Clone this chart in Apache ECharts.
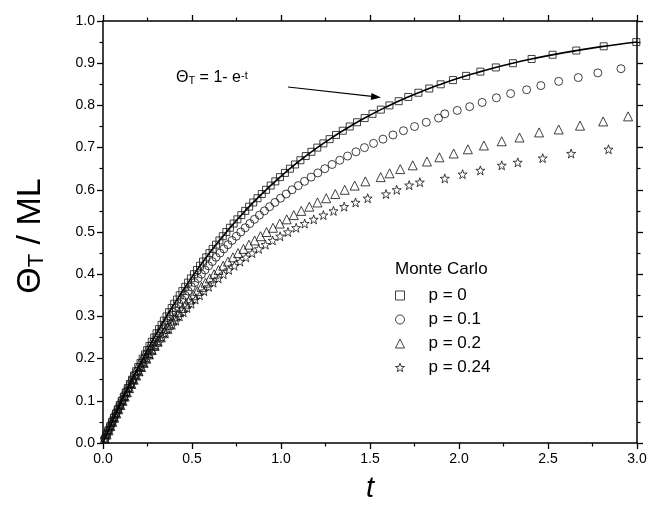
<!DOCTYPE html>
<html>
<head>
<meta charset="utf-8">
<script src="https://cdn.jsdelivr.net/npm/echarts/dist/echarts.min.js"></script>
<style>
html,body{margin:0;padding:0;background:#fff}
#chart{width:650px;height:508px}
</style>
</head>
<body>
<div id="chart"></div>
<script>
// time t and coverage Theta_T/ML for each Monte Carlo run
const tP0 = [0.010,0.020,0.030,0.041,0.051,0.062,0.073,0.083,0.094,0.105,0.117,0.128,0.139,0.151,0.163,0.174,0.186,0.198,0.211,0.223,
  0.236,0.248,0.261,0.274,0.288,0.301,0.315,0.329,0.342,0.357,0.371,0.386,0.400,0.416,0.431,0.446,0.462,0.478,0.494,0.511,
  0.528,0.545,0.562,0.580,0.598,0.616,0.635,0.654,0.673,0.693,0.713,0.734,0.755,0.777,0.799,0.821,0.844,0.868,0.892,0.916,
  0.942,0.968,0.994,1.022,1.050,1.079,1.109,1.139,1.171,1.204,1.238,1.273,1.309,1.347,1.386,1.427,1.470,1.514,1.561,1.609,
  1.661,1.715,1.772,1.833,1.897,1.966,2.040,2.120,2.207,2.303,2.408,2.526,2.659,2.813,2.996];
const thP0 = [0.01,0.02,0.03,0.04,0.05,0.06,0.07,0.08,0.09,0.10,0.11,0.12,0.13,0.14,0.15,0.16,0.17,0.18,0.19,0.20,
  0.21,0.22,0.23,0.24,0.25,0.26,0.27,0.28,0.29,0.30,0.31,0.32,0.33,0.34,0.35,0.36,0.37,0.38,0.39,0.40,
  0.41,0.42,0.43,0.44,0.45,0.46,0.47,0.48,0.49,0.50,0.51,0.52,0.53,0.54,0.55,0.56,0.57,0.58,0.59,0.60,
  0.61,0.62,0.63,0.64,0.65,0.66,0.67,0.68,0.69,0.70,0.71,0.72,0.73,0.74,0.75,0.76,0.77,0.78,0.79,0.80,
  0.81,0.82,0.83,0.84,0.85,0.86,0.87,0.88,0.89,0.90,0.91,0.92,0.93,0.94,0.95];

const tP1 = [0.010,0.020,0.031,0.041,0.052,0.062,0.073,0.084,0.096,0.107,0.119,0.130,0.142,0.154,0.167,0.179,0.192,0.205,0.218,0.231,
  0.244,0.258,0.272,0.286,0.301,0.315,0.330,0.346,0.361,0.377,0.393,0.409,0.426,0.443,0.461,0.478,0.496,0.515,0.534,0.553,
  0.573,0.593,0.614,0.635,0.657,0.679,0.702,0.725,0.749,0.774,0.799,0.825,0.851,0.879,0.907,0.936,0.966,0.997,1.029,1.062,
  1.097,1.132,1.169,1.207,1.246,1.287,1.330,1.374,1.421,1.469,1.520,1.573,1.629,1.688,1.750,1.816,1.885,
  1.92,1.99,2.06,2.13,2.21,2.29,2.38,2.46,2.56,2.67,2.78,2.91];
const thP1 = [0.01,0.02,0.03,0.04,0.05,0.06,0.07,0.08,0.09,0.10,0.11,0.12,0.13,0.14,0.15,0.16,0.17,0.18,0.19,0.20,
  0.21,0.22,0.23,0.24,0.25,0.26,0.27,0.28,0.29,0.30,0.31,0.32,0.33,0.34,0.35,0.36,0.37,0.38,0.39,0.40,
  0.41,0.42,0.43,0.44,0.45,0.46,0.47,0.48,0.49,0.50,0.51,0.52,0.53,0.54,0.55,0.56,0.57,0.58,0.59,0.60,
  0.61,0.62,0.63,0.64,0.65,0.66,0.67,0.68,0.69,0.70,0.71,0.72,0.73,0.74,0.75,0.76,0.77,
  0.780,0.788,0.797,0.807,0.818,0.828,0.837,0.847,0.857,0.866,0.877,0.887];

const tP2 = [0.010,0.020,0.031,0.041,0.052,0.063,0.075,0.086,0.098,0.110,0.122,0.134,0.147,0.159,0.172,0.186,0.200,0.214,0.228,0.242,
  0.257,0.273,0.288,0.304,0.320,0.337,0.354,0.372,0.390,0.408,0.427,0.447,0.467,0.487,0.509,0.530,0.553,0.576,0.600,0.624,
  0.649,0.675,0.702,0.730,0.759,0.789,0.820,0.852,0.885,0.919,0.955,0.993,1.032,1.072,1.114,1.159,1.205,1.254,1.305,1.358,
  1.414,1.474,
  1.56,1.61,1.67,1.74,1.82,1.89,1.97,2.05,2.14,2.24,2.34,2.45,2.56,2.68,2.81,2.95];
const thP2 = [0.01,0.02,0.03,0.04,0.05,0.06,0.07,0.08,0.09,0.10,0.11,0.12,0.13,0.14,0.15,0.16,0.17,0.18,0.19,0.20,
  0.21,0.22,0.23,0.24,0.25,0.26,0.27,0.28,0.29,0.30,0.31,0.32,0.33,0.34,0.35,0.36,0.37,0.38,0.39,0.40,
  0.41,0.42,0.43,0.44,0.45,0.46,0.47,0.48,0.49,0.50,0.51,0.52,0.53,0.54,0.55,0.56,0.57,0.58,0.59,0.60,
  0.61,0.62,
  0.630,0.639,0.649,0.658,0.667,0.677,0.686,0.696,0.705,0.715,0.724,0.736,0.743,0.752,0.762,0.774];

const tP24 = [0.010,0.020,0.031,0.042,0.053,0.064,0.075,0.087,0.099,0.111,0.123,0.136,0.149,0.163,0.176,0.190,0.205,0.219,0.234,0.250,
  0.266,0.282,0.299,0.316,0.334,0.352,0.371,0.390,0.410,0.430,0.452,0.473,0.496,0.519,0.543,0.568,0.594,0.620,0.648,0.677,
  0.707,0.738,0.770,0.803,0.838,0.875,0.913,0.953,0.995,1.039,1.085,1.133,1.184,1.238,1.295,1.355,1.419,1.487,
  1.59,1.65,1.72,1.78,1.92,2.02,2.12,2.24,2.33,2.47,2.63,2.84];
const thP24 = [0.01,0.02,0.03,0.04,0.05,0.06,0.07,0.08,0.09,0.10,0.11,0.12,0.13,0.14,0.15,0.16,0.17,0.18,0.19,0.20,
  0.21,0.22,0.23,0.24,0.25,0.26,0.27,0.28,0.29,0.30,0.31,0.32,0.33,0.34,0.35,0.36,0.37,0.38,0.39,0.40,
  0.41,0.42,0.43,0.44,0.45,0.46,0.47,0.48,0.49,0.50,0.51,0.52,0.53,0.54,0.55,0.56,0.57,0.58,
  0.590,0.600,0.611,0.618,0.627,0.637,0.646,0.658,0.665,0.675,0.686,0.696];

// the solid curve 1 - e^-t, read at every 0.1
const tCurve = [0,0.1,0.2,0.3,0.4,0.5,0.6,0.7,0.8,0.9,1.0,1.1,1.2,1.3,1.4,1.5,1.6,1.7,1.8,1.9,2.0,2.1,2.2,2.3,2.4,2.5,2.6,2.7,2.8,2.9,3.0];
const thCurve = [0,0.0952,0.1813,0.2592,0.3297,0.3935,0.4512,0.5034,0.5507,0.5934,0.6321,0.6671,0.6988,0.7275,0.7534,0.7769,
  0.7981,0.8173,0.8347,0.8504,0.8647,0.8775,0.8892,0.8997,0.9093,0.9179,0.9257,0.9328,0.9392,0.9450,0.9502];

const seriesNames = ['p = 0','p = 0.1','p = 0.2','p = 0.24'];

const font = 'Arial, "Liberation Sans", sans-serif';
const starPath = 'path://M0,-10L2.35,-3.24L9.51,-3.09L3.8,1.24L5.88,8.09L0,4L-5.88,8.09L-3.8,1.24L-9.51,-3.09L-2.35,-3.24Z';

function pairs(ts, ths){
    return ts.map((t,i)=>[t, ths[i]]);
}

let chart = echarts.init(document.getElementById('chart'));

const frameLine = {show:true, onZero:false, lineStyle:{color:'#000', width:1.5}};
const majorTick = {show:true, inside:false, length:6, lineStyle:{color:'#000', width:1.3}};
const minorTick = {show:true, splitNumber:2, length:3.5, lineStyle:{color:'#000', width:1.2}};
const hollow = {color:'rgba(0,0,0,0)', borderColor:'#111', borderWidth:1};

chart.setOption({
    animation:false,
    backgroundColor:'#fff',
    grid:{left:103, right:13, top:21, bottom:63},
    xAxis:[{
        type:'value', min:0, max:3, interval:0.5, position:'bottom',
        axisLine:frameLine, axisTick:majorTick, minorTick:minorTick,
        splitLine:{show:false},
        axisLabel:{margin:9, color:'#000', fontSize:14, fontFamily:font, formatter:v=>v.toFixed(1)},
        name:'t', nameLocation:'middle', nameGap:31,
        nameTextStyle:{fontSize:29, fontStyle:'italic', fontFamily:font, color:'#000'}
    },{
        type:'value', min:0, max:3, interval:0.5, position:'top',
        axisLine:frameLine, axisTick:majorTick, minorTick:minorTick,
        splitLine:{show:false}, axisLabel:{show:false}
    }],
    yAxis:[{
        type:'value', min:0, max:1, interval:0.1, position:'left',
        axisLine:frameLine, axisTick:majorTick, minorTick:minorTick,
        splitLine:{show:false},
        axisLabel:{margin:8, color:'#000', fontSize:14, fontFamily:font, formatter:v=>v.toFixed(1)}
    },{
        type:'value', min:0, max:1, interval:0.1, position:'right',
        axisLine:frameLine, axisTick:majorTick, minorTick:minorTick,
        splitLine:{show:false}, axisLabel:{show:false}
    }],
    legend:{
        data:seriesNames,
        orient:'vertical', left:395, top:287, padding:0,
        itemWidth:9, itemHeight:9, itemGap:7,
        itemStyle:hollow,
        textStyle:{fontSize:17, fontFamily:font, color:'#000', padding:[0,0,0,19]}
    },
    series:[
        {name:seriesNames[0], type:'scatter', symbol:'rect', symbolSize:7, itemStyle:hollow, data:pairs(tP0, thP0)},
        {name:seriesNames[1], type:'scatter', symbol:'circle', symbolSize:8, itemStyle:hollow, data:pairs(tP1, thP1)},
        {name:seriesNames[2], type:'scatter', symbol:'triangle', symbolSize:9, itemStyle:hollow, data:pairs(tP2, thP2)},
        {name:seriesNames[3], type:'scatter', symbol:starPath, symbolSize:9, itemStyle:hollow, data:pairs(tP24, thP24)},
        {name:'1-e^-t', type:'line', smooth:true, showSymbol:false, z:5,
            lineStyle:{color:'#000', width:1.6}, data:pairs(tCurve, thCurve)}
    ],
    graphic:[
        {type:'text', x:31, y:236, rotation:Math.PI/2,
            style:{text:'{a|Θ}{s|T}{a| / ML}', align:'center', verticalAlign:'middle', fill:'#000',
                rich:{
                    a:{fontSize:34, fontFamily:font, fill:'#000'},
                    s:{fontSize:22, fontFamily:font, fill:'#000', lineHeight:9, verticalAlign:'bottom'}
                }}},
        {type:'text', left:395, top:261,
            style:{text:'Monte Carlo', fontSize:17, fontFamily:font, fill:'#000'}},
        {type:'text', x:176, y:78,
            style:{text:'{a|Θ}{s|T}{a| = 1- e}{p|-t}', align:'left', verticalAlign:'middle', fill:'#000',
                rich:{
                    a:{fontSize:16, fontFamily:font, fill:'#000'},
                    s:{fontSize:11, fontFamily:font, fill:'#000', lineHeight:5, verticalAlign:'bottom'},
                    p:{fontSize:11, fontFamily:font, fill:'#000', lineHeight:5, verticalAlign:'top'}
                }}},
        {type:'polyline', shape:{points:[[288,87],[372,96.4]]}, style:{stroke:'#000', lineWidth:1.2}},
        {type:'polygon', shape:{points:[[381,97.5],[370.7,99.9],[371.5,92.9]]}, style:{fill:'#000'}}
    ]
});
</script>
</body>
</html>
